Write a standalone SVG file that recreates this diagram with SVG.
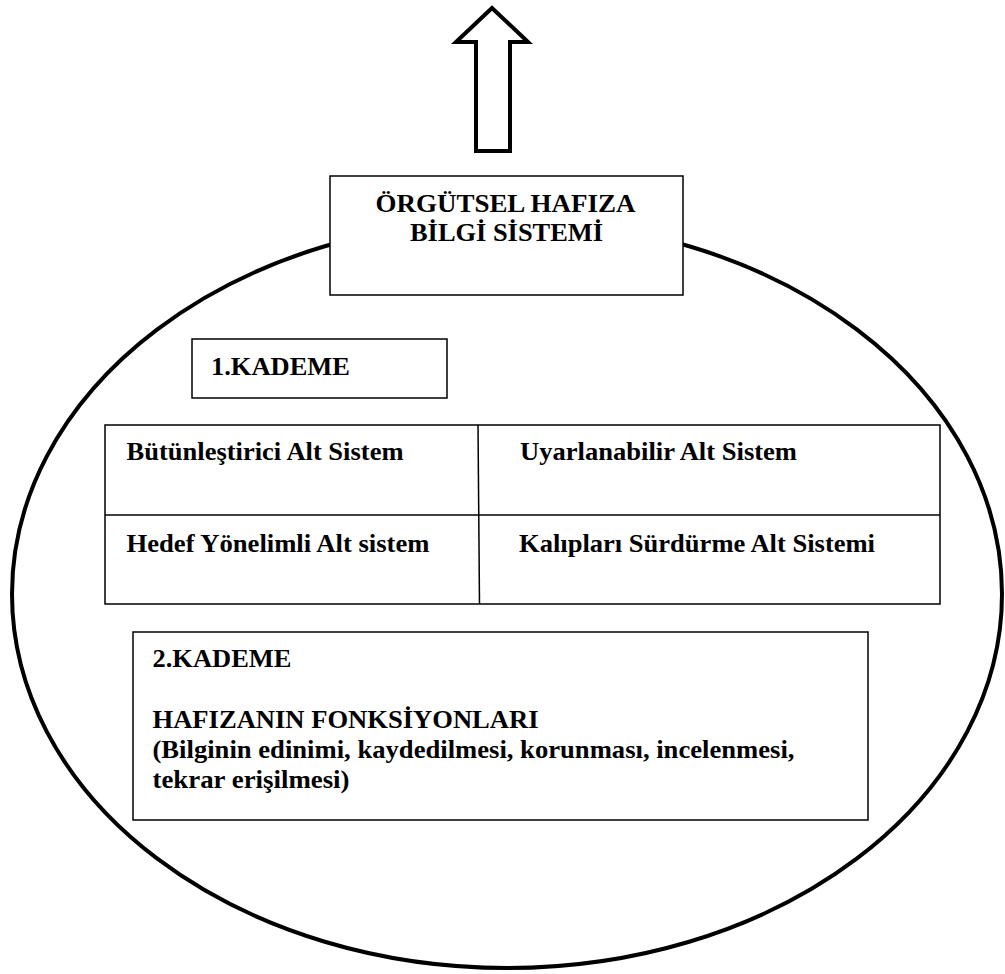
<svg xmlns="http://www.w3.org/2000/svg" width="1005" height="974" viewBox="0 0 1005 974">
<style>
.t{font-family:"Liberation Serif","Times New Roman",serif;font-weight:bold;font-size:25px;fill:#000}
.box{fill:#fff;stroke:#000;stroke-width:1.5}
.ln{stroke:#000;stroke-width:1.5;fill:none}
</style>
<rect width="1005" height="974" fill="#fff"/>
<g id="arrow">
<polygon points="492,8 456,42 476,42 476,151 510,151 510,42 528,42" fill="#fff" stroke="#000" stroke-width="4" stroke-linejoin="miter"/>
</g>
<g id="ellipse">
<ellipse cx="507" cy="594" rx="495" ry="374" fill="none" stroke="#000" stroke-width="4"/>
</g>
<g id="title">
<rect class="box" x="330" y="176" width="353" height="119"/>
<text class="t" x="505.5" y="212" text-anchor="middle" textLength="260" lengthAdjust="spacingAndGlyphs">ÖRGÜTSEL HAFIZA</text>
<text class="t" x="506.5" y="241" text-anchor="middle" textLength="193" lengthAdjust="spacingAndGlyphs">BİLGİ SİSTEMİ</text>
</g>
<g id="kademe1">
<rect class="box" x="192" y="339" width="255" height="59"/>
<text class="t" x="211" y="375" textLength="139" lengthAdjust="spacingAndGlyphs">1.KADEME</text>
</g>
<g id="table">
<rect class="box" x="105" y="425" width="835" height="179"/>
<line class="ln" x1="105" y1="515" x2="940" y2="515"/>
<line class="ln" x1="478" y1="425" x2="479.5" y2="604"/>
<text class="t" x="126.5" y="460" textLength="277" lengthAdjust="spacingAndGlyphs">Bütünleştirici Alt Sistem</text>
<text class="t" x="520" y="460" textLength="277" lengthAdjust="spacingAndGlyphs">Uyarlanabilir Alt Sistem</text>
<text class="t" x="126.5" y="552" textLength="303" lengthAdjust="spacingAndGlyphs">Hedef Yönelimli Alt sistem</text>
<text class="t" x="519" y="552" textLength="356" lengthAdjust="spacingAndGlyphs">Kalıpları Sürdürme Alt Sistemi</text>
</g>
<g id="kademe2">
<rect class="box" x="133" y="632" width="735" height="188"/>
<text class="t" x="152.5" y="667" textLength="139" lengthAdjust="spacingAndGlyphs">2.KADEME</text>
<text class="t" x="152.5" y="728" textLength="386" lengthAdjust="spacingAndGlyphs">HAFIZANIN FONKSİYONLARI</text>
<text class="t" x="152.5" y="758" textLength="642" lengthAdjust="spacingAndGlyphs">(Bilginin edinimi, kaydedilmesi, korunması, incelenmesi,</text>
<text class="t" x="152.5" y="788" textLength="197" lengthAdjust="spacingAndGlyphs">tekrar erişilmesi)</text>
</g>
<g id="connectors"></g>
</svg>
